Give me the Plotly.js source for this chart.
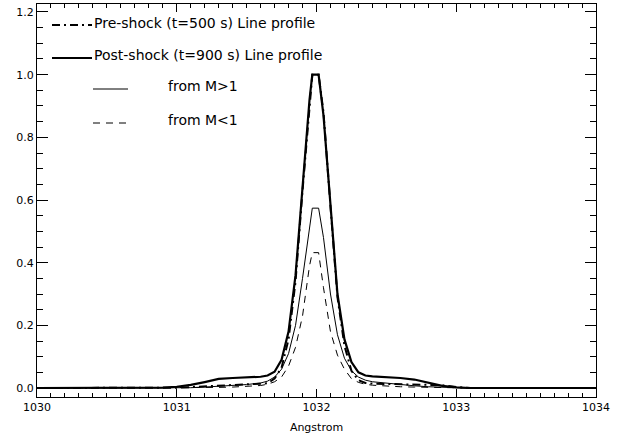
<!DOCTYPE html>
<html>
<head>
<meta charset="utf-8">
<script src="https://cdn.plot.ly/plotly-3.0.1.min.js"></script>
<style>html,body{margin:0;padding:0;background:#fff;}#chart{width:627px;height:441px;}</style>
</head>
<body>
<div id="chart"></div>
<script>
// Wavelength grid (Angstrom)
const wavelength = [1030.0, 1030.5, 1030.9, 1031.0, 1031.1, 1031.2, 1031.3, 1031.4, 1031.5, 1031.6, 1031.65, 1031.7, 1031.75, 1031.8, 1031.85, 1031.9, 1031.95, 1031.97, 1032.015, 1032.05, 1032.1, 1032.15, 1032.2, 1032.25, 1032.3, 1032.35, 1032.4, 1032.5, 1032.6, 1032.7, 1032.8, 1032.9, 1033.0, 1033.1, 1033.5, 1034.0];

// Pre-shock (t=500 s) line profile
const preShock = [0, 0, 0, 0.001, 0.003, 0.005, 0.006, 0.008, 0.010, 0.012, 0.015, 0.030, 0.065, 0.155, 0.34, 0.63, 0.90, 1.0, 1.0, 0.88, 0.58, 0.29, 0.135, 0.055, 0.025, 0.016, 0.014, 0.013, 0.012, 0.011, 0.011, 0.009, 0.003, 0, 0, 0];

// Post-shock (t=900 s) line profile
const postShock = [0, 0, 0.001, 0.004, 0.010, 0.019, 0.029, 0.032, 0.034, 0.036, 0.040, 0.052, 0.09, 0.18, 0.36, 0.65, 0.92, 1.0, 1.0, 0.87, 0.59, 0.30, 0.155, 0.083, 0.050, 0.040, 0.037, 0.035, 0.032, 0.027, 0.017, 0.007, 0.002, 0, 0, 0];

// Post-shock contribution from M>1
const fromMgt1 = [0, 0, 0, 0, 0.001, 0.003, 0.005, 0.008, 0.011, 0.016, 0.022, 0.035, 0.06, 0.11, 0.20, 0.35, 0.52, 0.574, 0.574, 0.48, 0.30, 0.17, 0.095, 0.055, 0.035, 0.025, 0.020, 0.015, 0.011, 0.007, 0.004, 0.002, 0, 0, 0, 0];

// Post-shock contribution from M<1
const fromMlt1 = [0, 0, 0, 0, 0.001, 0.001, 0.002, 0.003, 0.005, 0.008, 0.012, 0.020, 0.035, 0.07, 0.13, 0.23, 0.39, 0.432, 0.432, 0.32, 0.18, 0.105, 0.06, 0.03, 0.018, 0.012, 0.009, 0.006, 0.004, 0.003, 0.002, 0.001, 0, 0, 0, 0];

const legendLabels = ["Pre-shock (t=500 s) Line profile", "Post-shock (t=900 s) Line profile", "from M>1", "from M<1"];
const xTickVals = [1030, 1031, 1032, 1033, 1034];
const yTickVals = [0.0, 0.2, 0.4, 0.6, 0.8, 1.0, 1.2];

// plot-area geometry in pixels (for legend placement)
const W = 627, H = 441, L = 37, R = 31, T = 4, B = 44;
const pw = W - L - R, ph = H - T - B;
const px = x => (x - L) / pw;
const py = y => (H - B - y) / ph;

const traces = [
  {x: wavelength, y: preShock, mode: 'lines', line: {color: '#000', width: 2, dash: '8px,4px,2px,4px'}},
  {x: wavelength, y: fromMlt1, mode: 'lines', line: {color: '#000', width: 1, dash: '7px,6px'}},
  {x: wavelength, y: fromMgt1, mode: 'lines', line: {color: '#000', width: 1}},
  {x: wavelength, y: postShock, mode: 'lines', line: {color: '#000', width: 2.2}}
];

const font = {family: 'DejaVu Sans, sans-serif', size: 11, color: '#000'};
const lfont = {family: 'DejaVu Sans, sans-serif', size: 14, color: '#000'};

const shapes = [
  {type: 'line', xref: 'paper', yref: 'paper', x0: px(52), x1: px(92), y0: py(25), y1: py(25), line: {color: '#000', width: 2, dash: '8px,4px,2px,4px'}},
  {type: 'line', xref: 'paper', yref: 'paper', x0: px(52), x1: px(92), y0: py(58), y1: py(58), line: {color: '#000', width: 2.2}},
  {type: 'line', xref: 'paper', yref: 'paper', x0: px(93), x1: px(128), y0: py(89), y1: py(89), line: {color: '#000', width: 1}},
  {type: 'line', xref: 'paper', yref: 'paper', x0: px(93), x1: px(128), y0: py(123), y1: py(123), line: {color: '#000', width: 1, dash: '7px,6px'}}
];

const annotations = [
  {xref: 'paper', yref: 'paper', x: px(92), y: py(23), text: legendLabels[0], showarrow: false, xanchor: 'left', yanchor: 'middle', font: lfont},
  {xref: 'paper', yref: 'paper', x: px(92), y: py(55), text: legendLabels[1], showarrow: false, xanchor: 'left', yanchor: 'middle', font: lfont},
  {xref: 'paper', yref: 'paper', x: px(166), y: py(86), text: legendLabels[2], showarrow: false, xanchor: 'left', yanchor: 'middle', font: lfont},
  {xref: 'paper', yref: 'paper', x: px(166), y: py(120), text: legendLabels[3], showarrow: false, xanchor: 'left', yanchor: 'middle', font: lfont}
];

const layout = {
  width: W, height: H,
  margin: {l: L, r: R, t: T, b: B, pad: 0},
  paper_bgcolor: '#fff', plot_bgcolor: '#fff',
  showlegend: false,
  font: font,
  xaxis: {
    range: [1030, 1034], tickvals: xTickVals, ticktext: xTickVals.map(String),
    ticks: 'inside', ticklen: 8, tickwidth: 1, tickcolor: '#000',
    minor: {dtick: 0.1, ticks: 'inside', ticklen: 4, tickwidth: 1, tickcolor: '#000'},
    showline: true, linecolor: '#000', linewidth: 1, mirror: 'allticks',
    showgrid: false, zeroline: false, tickfont: font,
    title: {text: 'Angstrom', font: font, standoff: 10}
  },
  yaxis: {
    range: [-0.0287, 1.2255], tickvals: yTickVals, ticktext: yTickVals.map(v => v.toFixed(1)),
    ticks: 'inside', ticklen: 11, tickwidth: 1, tickcolor: '#000',
    minor: {dtick: 0.05, ticks: 'inside', ticklen: 6, tickwidth: 1, tickcolor: '#000'},
    showline: true, linecolor: '#000', linewidth: 1, mirror: 'allticks',
    showgrid: false, zeroline: false, tickfont: font
  },
  shapes: shapes,
  annotations: annotations
};

Plotly.newPlot('chart', traces, layout, {displayModeBar: false, staticPlot: true});
</script>
</body>
</html>
